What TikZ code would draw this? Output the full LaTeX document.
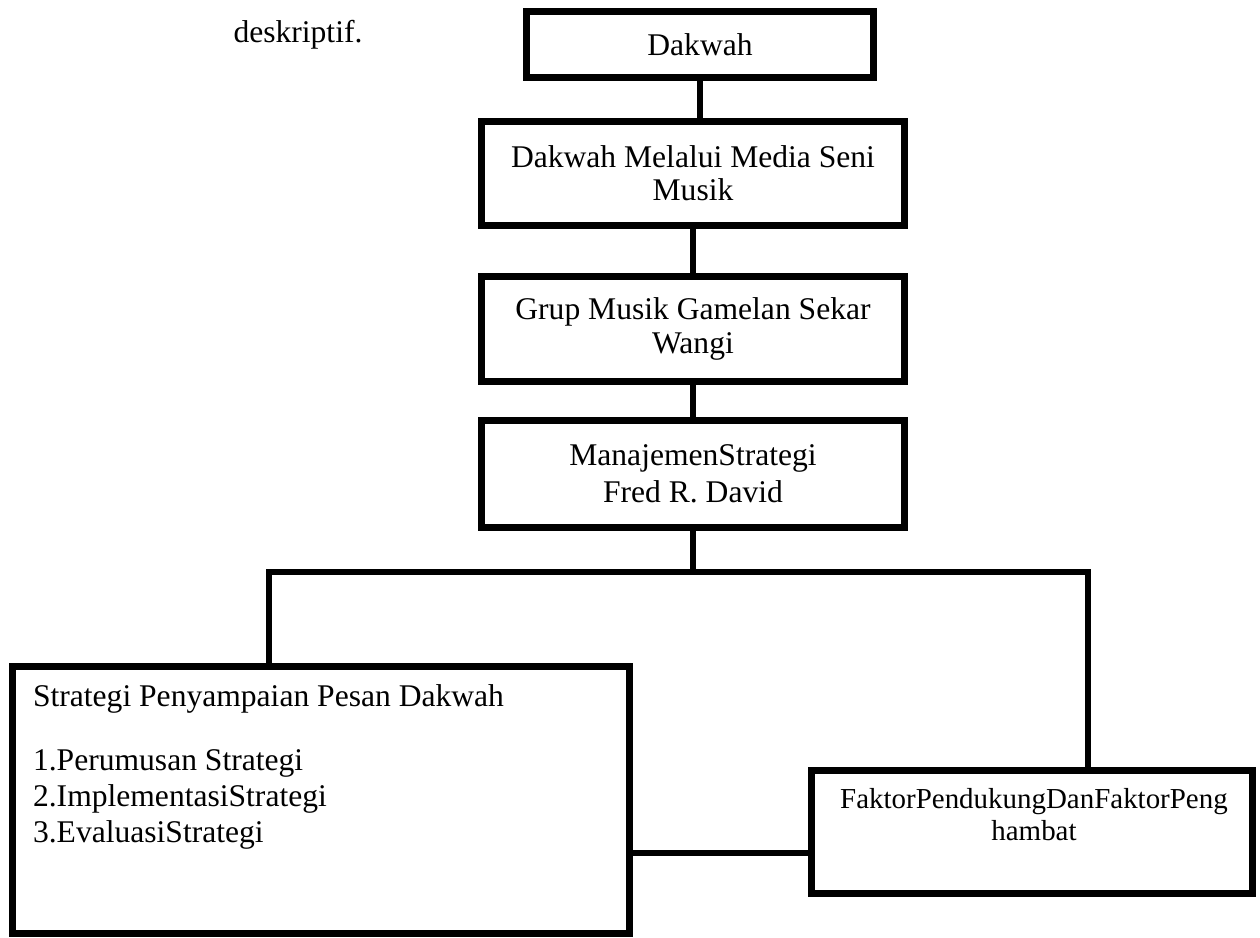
\documentclass[tikz,border=0pt]{standalone}
\usepackage{fontspec}
\setmainfont{Liberation Serif}
\usepackage{xcolor}
\usepackage{tikz}

\begin{document}
\begin{tikzpicture}[x=0.38pt, y=-0.38pt,
      kotak/.style={rectangle, draw, line width=2.6pt, inner sep=0pt, align=center,
        font=\fontsize{12}{12.6}\selectfont},
      teks/.style={inner sep=0pt, font=\fontsize{12}{13.7}\selectfont},
      garis/.style={line width=2.6pt}
      ]
      \useasboundingbox (0,0) rectangle (1260,938);
      \node[teks, anchor=base west] (desk) at (233,43) {deskriptif.};
      % kotak atas
      \node[kotak, minimum width=131.9pt, minimum height=25.1pt] (b1) at (700,44.5) {Dakwah};
      \node[kotak, minimum width=160.7pt, minimum height=39.5pt] (b2) at (693,173.5) {Dakwah Melalui Media Seni\\Musik};
      \node[kotak, minimum width=160.7pt, minimum height=39.9pt] (b3) at (693,329) {Grup Musik Gamelan Sekar\\Wangi};
      \node[kotak, minimum width=160.7pt, minimum height=40.7pt,
        font=\fontsize{12}{14.2}\selectfont] (b4) at (693,474) {ManajemenStrategi\\Fred R. David};
      % kotak bawah
      \node[kotak, minimum width=234.5pt, minimum height=101.5pt] (big) at (321,800) {};
      \node[kotak, minimum width=167.6pt, minimum height=46.7pt] (fak) at (1032,832) {};
      \node[teks, anchor=north west, align=left] (isi) at ([shift={(23.5,21)}]big.north west)
        {Strategi Penyampaian Pesan Dakwah\\[10.6pt]1.Perumusan Strategi\\2.ImplementasiStrategi\\3.EvaluasiStrategi};
      \node[teks, anchor=north, align=center, font=\fontsize{11}{12.2}\selectfont] (isifak)
        at ([shift={(2,20.5)}]fak.north) {FaktorPendukungDanFaktorPeng\\hambat};
      % garis penghubung
      \coordinate (kiri) at (269,572);
      \coordinate (kanan) at (1088,572);
      \coordinate (tengah) at (720,853);
      \draw[garis] (b1.south) -- (b1.south |- b2.north);
      \draw[garis] (b2.south) -- (b2.south |- b3.north);
      \draw[garis] (b3.south) -- (b3.south |- b4.north);
      \draw[garis] (b4.south) -- (b4.south |- kiri);
      \draw[garis] (kiri |- big.north) -- (kiri) -- (kanan) -- (kanan |- fak.north);
      \draw[garis] (big.east |- tengah) -- (fak.west |- tengah);
\end{tikzpicture}
\end{document}
